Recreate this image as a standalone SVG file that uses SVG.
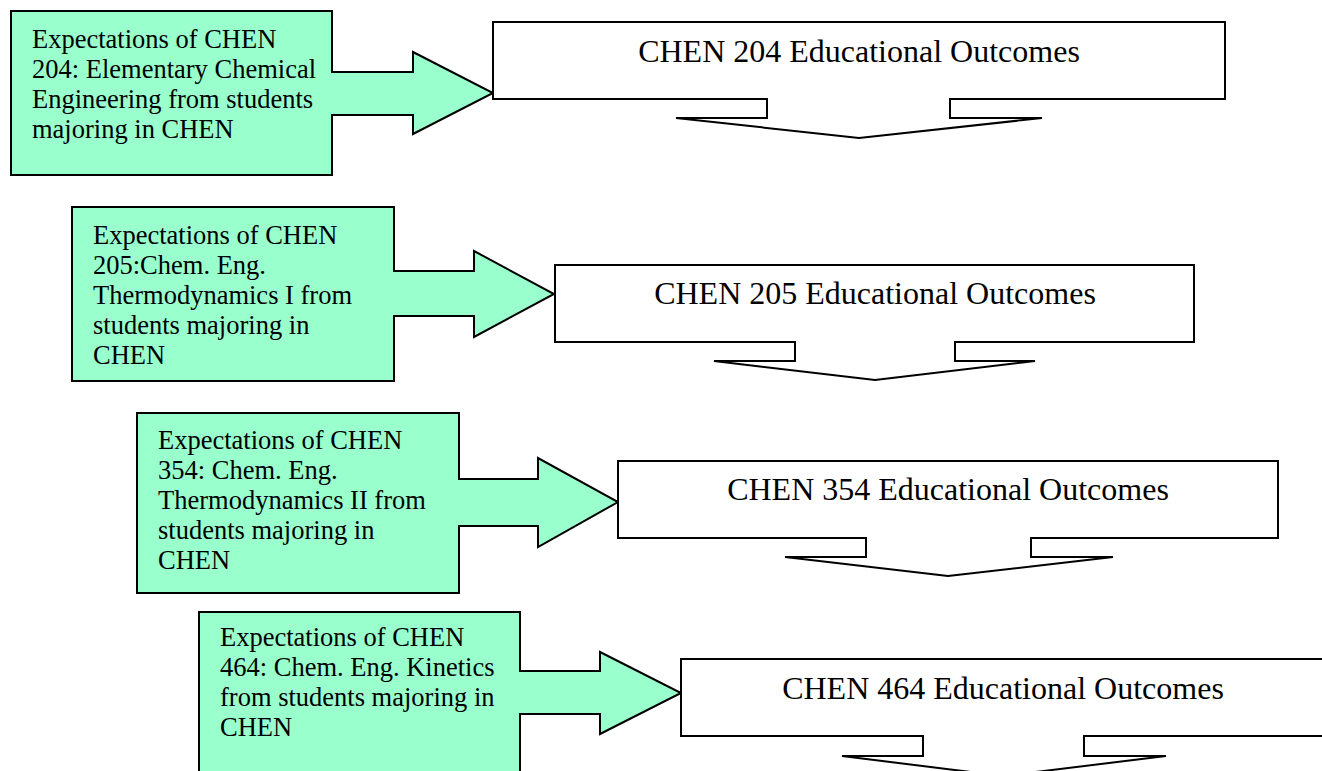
<svg xmlns="http://www.w3.org/2000/svg" width="1322" height="771" viewBox="0 0 1322 771">
<style>
.exp{fill:#99FFCC;stroke:#000;stroke-width:2;stroke-linejoin:miter}
.out{fill:#fff;stroke:#000;stroke-width:2;stroke-linejoin:miter}
.t{font-family:"Liberation Serif","Times New Roman",serif;font-size:26.5px;fill:#000}
.h{font-family:"Liberation Serif","Times New Roman",serif;font-size:32px;fill:#000;text-anchor:middle}
</style>
<rect width="1322" height="771" fill="#fff"/>
<g id="connectors"/>
<g id="exp204">
<polygon class="exp" points="11,11 332,11 332,72 413,72 413,52 493,93 413,134 413,115 332,115 332,175 11,175"/>
<text class="t" x="32" y="48">Expectations of CHEN</text>
<text class="t" x="32" y="78">204: Elementary Chemical</text>
<text class="t" x="32" y="108">Engineering from students</text>
<text class="t" x="32" y="138">majoring in CHEN</text>
</g>
<g id="out204">
<polygon class="out" points="493,22 1225,22 1225,99 950,99 950,118 1042,118 859,138 676,118 767,118 767,99 493,99"/>
<text class="h" x="859" y="62">CHEN 204 Educational Outcomes</text>
</g>
<g id="exp205">
<polygon class="exp" points="72,207 394,207 394,271 474,271 474,251 554,294 474,337 474,316 394,316 394,381 72,381"/>
<text class="t" x="93" y="244">Expectations of CHEN</text>
<text class="t" x="93" y="274">205:Chem. Eng.</text>
<text class="t" x="93" y="304">Thermodynamics I from</text>
<text class="t" x="93" y="334">students majoring in</text>
<text class="t" x="93" y="364">CHEN</text>
</g>
<g id="out205">
<polygon class="out" points="555,265 1194,265 1194,342 955,342 955,361 1035,361 875,380 714,361 795,361 795,342 555,342"/>
<text class="h" x="875" y="304">CHEN 205 Educational Outcomes</text>
</g>
<g id="exp354">
<polygon class="exp" points="137,413 459,413 459,479 538,479 538,458 618,502 538,547 538,526 459,526 459,593 137,593"/>
<text class="t" x="158" y="449">Expectations of CHEN</text>
<text class="t" x="158" y="479">354: Chem. Eng.</text>
<text class="t" x="158" y="509">Thermodynamics II from</text>
<text class="t" x="158" y="539">students majoring in</text>
<text class="t" x="158" y="569">CHEN</text>
</g>
<g id="out354">
<polygon class="out" points="618,461 1278,461 1278,538 1031,538 1031,557 1113,557 948,576 785,557 866,557 866,538 618,538"/>
<text class="h" x="948" y="500">CHEN 354 Educational Outcomes</text>
</g>
<g id="exp464">
<polygon class="exp" points="199,612 520,612 520,671 600,671 600,652 681,693 600,734 600,714 520,714 520,790 199,790"/>
<text class="t" x="220" y="646">Expectations of CHEN</text>
<text class="t" x="220" y="676">464: Chem. Eng. Kinetics</text>
<text class="t" x="220" y="706">from students majoring in</text>
<text class="t" x="220" y="736">CHEN</text>
</g>
<g id="out464">
<polygon class="out" points="681,659 1326,659 1326,736 1084,736 1084,756 1166,756 1003,776 842,756 923,756 923,736 681,736"/>
<text class="h" x="1003" y="699">CHEN 464 Educational Outcomes</text>
</g>
</svg>
